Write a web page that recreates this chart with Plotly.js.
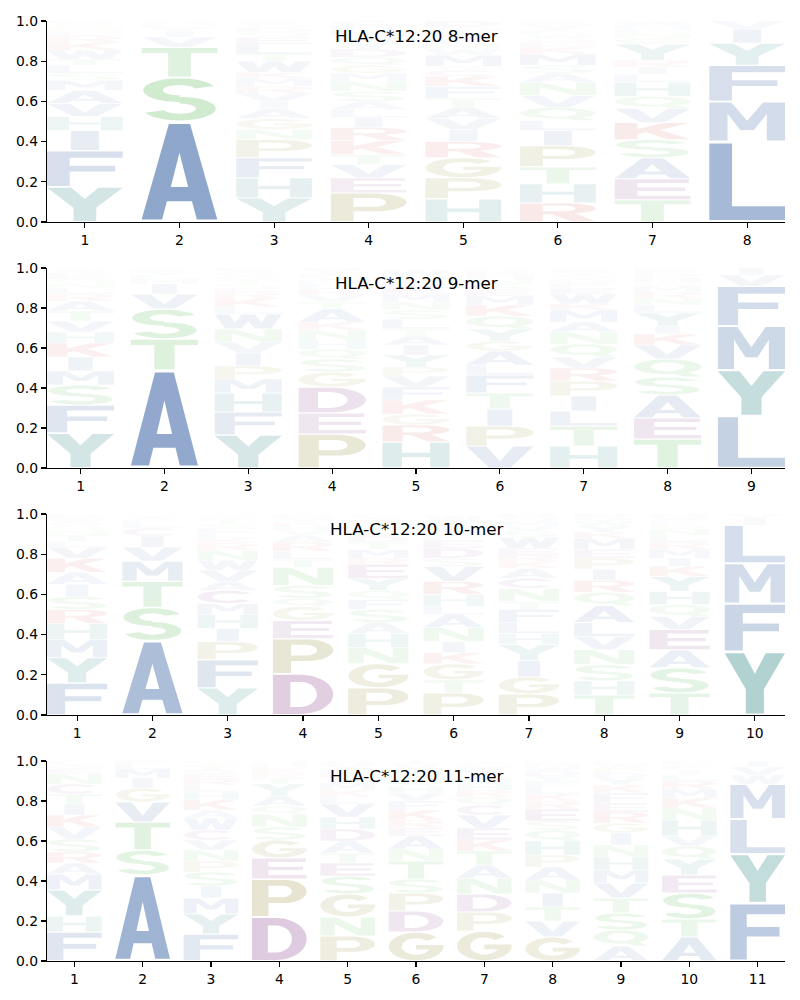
<!DOCTYPE html>
<html><head><meta charset="utf-8">
<script src="https://cdn.plot.ly/plotly-3.0.1.min.js"></script>
<style>html,body{margin:0;padding:0;background:#fff}#chart{width:800px;height:1000px}</style>
</head><body><div id="chart"></div>
<script>
// ---------------- DATA ----------------
const panelTitles = ["HLA-C*12:20 8-mer", "HLA-C*12:20 9-mer", "HLA-C*12:20 10-mer", "HLA-C*12:20 11-mer"];
const yTickVals = [0, 0.2, 0.4, 0.6, 0.8, 1.0];
const yTickLabels = ["0.0", "0.2", "0.4", "0.6", "0.8", "1.0"];

// letters of each position, bottom to top
const letters8 = ["YFIHVAMSLTWKRENGQD","ASTVIYLMF","YHFPNGAIVRMKWTLEQDSC","PEVTKRILASNMGQDYWHFC",
  "HPGRIVATFKCSMWNLYEQD","RHTPILQVNASMKEGWFYDC","TEASKVQHLIRYGNFMW","LMFYIV"];
const heights8 = [
  [.175,.18,.10,.07,.065,.065,.05,.035,.04,.03,.045,.04,.03,.02,.015,.015,.015,.01],
  [.50,.22,.15,.05,.03,.015,.015,.01,.01],
  [.12,.10,.10,.09,.05,.055,.05,.035,.04,.035,.04,.03,.055,.035,.05,.035,.025,.02,.02,.015],
  [.145,.075,.065,.05,.07,.065,.05,.04,.04,.05,.05,.04,.04,.04,.04,.035,.03,.03,.025,.02],
  [.115,.105,.10,.08,.06,.055,.055,.045,.06,.05,.03,.02,.055,.03,.025,.025,.02,.02,.02,.03],
  [.095,.095,.085,.105,.075,.05,.065,.06,.065,.045,.04,.055,.035,.025,.02,.02,.02,.02,.015,.01],
  [.11,.105,.105,.09,.085,.07,.06,.07,.04,.035,.035,.08,.03,.025,.02,.02,.02],
  [.40,.20,.18,.11,.07,.04]
];
const letters9 = ["YFSMIKHVTARLNQEDGWC","ATSVIMLYFC","YFHMPIVNWLKRESTGQAD","PEDGSQHNKATVRLMYFIW",
  "HRGKFVPYIATLSNMEDQWC","VPITFLAGYQKMESNHDRW","HTLIPRVQNAMKWEFGSYDC","TEASQVKIYLNRMGHPFD","LYMFVI"];
const heights9 = [
  [.175,.14,.10,.07,.07,.07,.055,.055,.05,.05,.035,.03,.025,.02,.02,.01,.01,.01,.005],
  [.49,.155,.15,.075,.05,.025,.02,.015,.01,.01],
  [.165,.115,.095,.07,.065,.065,.055,.065,.075,.035,.045,.03,.02,.02,.02,.02,.015,.015,.01],
  [.17,.105,.13,.075,.065,.05,.045,.05,.04,.065,.035,.035,.03,.025,.02,.015,.015,.015,.015],
  [.13,.085,.055,.07,.065,.055,.045,.06,.05,.045,.035,.05,.045,.04,.04,.035,.025,.03,.03,.01],
  [.11,.10,.085,.08,.09,.05,.07,.05,.06,.065,.055,.045,.03,.03,.025,.02,.015,.01,.01],
  [.11,.10,.075,.075,.075,.065,.055,.065,.06,.05,.06,.03,.05,.03,.025,.02,.02,.015,.01,.01],
  [.145,.105,.115,.09,.09,.07,.055,.04,.065,.04,.035,.03,.03,.02,.02,.02,.015,.015],
  [.26,.23,.22,.20,.055,.035]
];
const letters10 = ["FYMHRSIAKVLTNQGWED","ASTMVICLFYQ","YFPIHMCAVWNRKLESTGQ","DPEGQSNTLRAVHKYMF",
  "PGNHASFQYERMTDLWIKVC","PTGKINALHRVSDEFMQYWC","PGIYHLFTNCAKREWSVMQD","THSNVLAQRIPEMKYWGD",
  "TSAEVQHYKIMRLNGFWD","YFMLIV"];
const heights10 = [
  [.16,.125,.09,.08,.07,.065,.06,.06,.07,.055,.03,.03,.025,.02,.02,.015,.015,.01],
  [.37,.165,.13,.10,.07,.055,.04,.025,.02,.015,.01],
  [.135,.14,.09,.065,.07,.055,.065,.045,.055,.05,.05,.035,.025,.025,.025,.02,.02,.015,.015],
  [.205,.175,.09,.07,.04,.065,.09,.04,.04,.045,.035,.025,.02,.02,.015,.015,.01],
  [.135,.12,.08,.07,.055,.065,.05,.045,.06,.07,.03,.045,.035,.03,.025,.02,.02,.02,.015,.01],
  [.11,.065,.08,.055,.055,.07,.065,.04,.06,.065,.075,.04,.05,.04,.025,.025,.025,.02,.025,.01],
  [.105,.085,.08,.08,.055,.055,.065,.04,.065,.05,.05,.035,.03,.035,.055,.03,.025,.025,.02,.015],
  [.10,.07,.08,.075,.065,.07,.085,.065,.06,.055,.055,.045,.055,.03,.03,.025,.02,.015],
  [.11,.125,.09,.10,.065,.06,.065,.075,.05,.04,.045,.035,.035,.03,.025,.02,.015,.015],
  [.315,.24,.20,.19,.035,.02]
];
const letters11 = ["FHYMARSVKITCNEGL","ASTVGIMLF","FYMISPNVCWAKHLREQTGD","DPEGSNQAYTRKLHM",
  "PNGSETADHVLKMIRFYQ","GDPSTNAERKFVHQLMYWI","GPDNATKEVCQRHMIYFLS","GVTINAPHQSERKLFYDWMC",
  "AQSTVMHNIGREFKYDPWL","ATSEYQVHNKMRLIFGD","FYLMWVI"];
const heights11 = [
  [.145,.08,.13,.08,.055,.055,.065,.06,.06,.055,.05,.05,.05,.025,.02,.02],
  [.43,.125,.14,.10,.07,.05,.045,.025,.015],
  [.135,.10,.08,.06,.07,.055,.055,.05,.05,.06,.04,.05,.04,.035,.03,.025,.02,.02,.015,.01],
  [.22,.19,.105,.09,.065,.065,.04,.05,.06,.03,.025,.02,.015,.015,.01],
  [.125,.095,.115,.09,.065,.05,.06,.06,.06,.065,.035,.035,.035,.025,.025,.02,.02,.02],
  [.145,.105,.09,.07,.09,.06,.065,.04,.04,.05,.045,.04,.035,.03,.025,.025,.02,.015,.01],
  [.15,.095,.09,.08,.065,.07,.055,.06,.065,.05,.04,.035,.03,.025,.02,.02,.02,.015,.015],
  [.12,.08,.07,.07,.065,.065,.06,.07,.055,.045,.06,.04,.035,.035,.03,.025,.025,.02,.02,.01],
  [.075,.08,.085,.075,.075,.065,.065,.06,.06,.05,.055,.045,.05,.04,.035,.025,.025,.02,.015],
  [.12,.09,.13,.09,.08,.065,.05,.08,.06,.05,.045,.04,.03,.025,.02,.015,.01],
  [.29,.245,.175,.175,.045,.04,.03]
];

// ---------------- STYLE ----------------
const groupRGB = {
  blue:[32,80,152], teal:[10,110,110], green:[40,165,40], khaki:[125,115,10], purple:[110,20,110], red:[200,25,25]
};
const letterGroup = {A:'blue',V:'blue',L:'blue',I:'blue',M:'blue',F:'blue',W:'blue',
  Y:'teal',H:'teal', S:'green',T:'green',N:'green',Q:'green', P:'khaki',G:'khaki',
  D:'purple',E:'purple',C:'purple', K:'red',R:'red'};

// ---------------- GLYPH OUTLINES (unit box) ----------------
function arc(cx,cy,rx,ry,a0,a1,n){n=n||24;const p=[];for(let i=0;i<=n;i++){const a=(a0+(a1-a0)*i/n)*Math.PI/180;p.push([cx+rx*Math.cos(a),cy+ry*Math.sin(a)]);}return p;}
const G = {
  A:[{p:[[0,0],[0.27,0],[0.335,0.19],[0.665,0.19],[0.73,0],[1,0],[0.64,1],[0.36,1]]},{p:[[0.385,0.34],[0.615,0.34],[0.5,0.7]],hole:true}],
  C:[{p:arc(0.5,0.5,0.5,0.5,40,320,32).concat(arc(0.5,0.5,0.26,0.3,320,40,32))}],
  D:[{p:[[0,0]].concat(arc(0.45,0.5,0.55,0.5,-90,90,24),[[0,1]])},{p:[[0.29,0.18]].concat(arc(0.45,0.5,0.28,0.32,-90,90,24),[[0.29,0.82]]),hole:true}],
  E:[{p:[[0,0],[1,0],[1,0.18],[0.3,0.18],[0.3,0.42],[0.93,0.42],[0.93,0.59],[0.3,0.59],[0.3,0.82],[0.98,0.82],[0.98,1],[0,1]]}],
  F:[{p:[[0,0],[0.3,0],[0.3,0.42],[0.9,0.42],[0.9,0.59],[0.3,0.59],[0.3,0.82],[1,0.82],[1,1],[0,1]]}],
  G:[{p:arc(0.5,0.5,0.5,0.5,42,360,32).concat([[1,0.55],[0.5,0.55],[0.5,0.39],[0.75,0.39]],arc(0.5,0.5,0.26,0.3,-40,-318,32))}],
  H:[{p:[[0,0],[0.29,0],[0.29,0.42],[0.71,0.42],[0.71,0],[1,0],[1,1],[0.71,1],[0.71,0.59],[0.29,0.59],[0.29,1],[0,1]]}],
  I:[{p:[[0.315,0],[0.685,0],[0.685,1],[0.315,1]]}],
  K:[{p:[[0,0],[0.3,0],[0.3,0.3],[0.41,0.42],[0.69,0],[1,0],[0.6,0.57],[0.98,1],[0.64,1],[0.3,0.62],[0.3,1],[0,1]]}],
  L:[{p:[[0,0],[1,0],[1,0.18],[0.3,0.18],[0.3,1],[0,1]]}],
  M:[{p:[[0,0],[0.24,0],[0.24,0.7],[0.41,0.28],[0.59,0.28],[0.76,0.7],[0.76,0],[1,0],[1,1],[0.71,1],[0.5,0.52],[0.29,1],[0,1]]}],
  N:[{p:[[0,0],[0.26,0],[0.26,0.64],[0.7,0],[1,0],[1,1],[0.74,1],[0.74,0.36],[0.3,1],[0,1]]}],
  P:[{p:[[0,0],[0.3,0],[0.3,0.36]].concat(arc(0.58,0.68,0.42,0.32,-90,90,24),[[0,1]])},{p:[[0.3,0.52]].concat(arc(0.55,0.68,0.18,0.16,-90,90,20),[[0.3,0.84]]),hole:true}],
  Q:[{p:arc(0.5,0.57,0.5,0.43,0,360,40)},{p:arc(0.5,0.57,0.25,0.26,0,360,40),hole:true},{p:[[0.52,0.26],[0.74,0],[1,0],[0.78,0.28],[0.66,0.38]]}],
  R:[{p:[[0,0],[0.3,0],[0.3,0.4],[0.42,0.4],[0.68,0],[1,0],[0.72,0.45]].concat(arc(0.58,0.72,0.42,0.28,-60,90,24),[[0,1]])},{p:[[0.3,0.56]].concat(arc(0.55,0.72,0.18,0.16,-90,90,20),[[0.3,0.88]]),hole:true}],
  S:[{p:arc(0.5,0.72,0.48,0.28,20,270,28).concat(arc(0.5,0.72,0.22,0.12,270,20,28))},{p:arc(0.5,0.28,0.48,0.28,90,-160,28).concat(arc(0.5,0.28,0.22,0.12,-160,90,28))}],
  T:[{p:[[0.35,0],[0.65,0],[0.65,0.82],[1,0.82],[1,1],[0,1],[0,0.82],[0.35,0.82]]}],
  V:[{p:[[0.34,0],[0.66,0],[1,1],[0.7,1],[0.5,0.3],[0.3,1],[0,1]]}],
  W:[{p:[[0.16,0],[0.4,0],[0.5,0.52],[0.6,0],[0.84,0],[1,1],[0.78,1],[0.7,0.42],[0.6,1],[0.4,1],[0.3,0.42],[0.22,1],[0,1]]}],
  Y:[{p:[[0.35,0],[0.65,0],[0.65,0.4],[1,1],[0.68,1],[0.5,0.66],[0.32,1],[0,1],[0.35,0.4]]}]
};
function area(pts){let a=0;for(let i=0;i<pts.length;i++){const p=pts[i],q=pts[(i+1)%pts.length];a+=p[0]*q[1]-q[0]*p[1];}return a/2;}
function glyphPath(ch,xc,y0,h){
  const pad=h*0.025, yb=y0+pad, hh=h-2*pad, w=0.8;
  let s='';
  for(const c of G[ch]){
    let pts=c.p.slice(); const a=area(pts);
    if((a>0)===!!c.hole) pts.reverse();
    s+='M'+pts.map(p=>(xc-w/2+p[0]*w).toFixed(4)+','+(yb+p[1]*hh).toFixed(4)).join('L')+'Z';
  }
  return s;
}

// ---------------- BUILD ----------------
const panels = [[letters8,heights8],[letters9,heights9],[letters10,heights10],[letters11,heights11]];
const yDomains = [[0.778,0.979],[0.532,0.732],[0.285,0.486],[0.039,0.239]];
const xDomain = [0.05875,0.98125];
const tickFont = {family:'DejaVu Sans', size:13.9, color:'#000'};
const data=[], shapes=[], annotations=[];
const layout = {width:800,height:1000,margin:{l:0,r:0,t:0,b:0},paper_bgcolor:'#fff',plot_bgcolor:'rgba(0,0,0,0)',showlegend:false};

panels.forEach(([lets,hts],k)=>{
  const sfx = k===0?'':String(k+1);
  const xr='x'+sfx, yr='y'+sfx;
  const positions = lets.map((_,i)=>i+1);
  data.push({type:'scatter',mode:'markers',x:positions,y:positions.map(()=>null),xaxis:xr,yaxis:yr,hoverinfo:'skip',marker:{opacity:0}});
  layout['xaxis'+sfx] = {domain:xDomain,anchor:yr,range:[0.6,positions.length+0.4],tickvals:positions,ticktext:positions.map(String),
    ticks:'outside',ticklen:5,tickwidth:1.1,tickcolor:'#000',showline:true,linecolor:'#000',linewidth:1.1,showgrid:false,zeroline:false,
    tickfont:tickFont,fixedrange:true,automargin:false};
  layout['yaxis'+sfx] = {domain:yDomains[k],anchor:xr,range:[0,1],tickvals:yTickVals,ticktext:yTickLabels,
    ticks:'outside',ticklen:5,tickwidth:1.1,tickcolor:'#000',showline:true,linecolor:'#000',linewidth:1.1,showgrid:false,zeroline:false,
    tickfont:tickFont,fixedrange:true,automargin:false};
  lets.forEach((col,i)=>{
    let y0=0;
    col.split('').forEach((ch,j)=>{
      const h=hts[i][j];
      const rgb=groupRGB[letterGroup[ch]];
      const alpha=Math.min(1,h);
      shapes.push({type:'path',xref:xr,yref:yr,path:glyphPath(ch,positions[i],y0,h),
        fillcolor:`rgba(${rgb[0]},${rgb[1]},${rgb[2]},${alpha.toFixed(3)})`,line:{width:0},layer:'below',fillrule:'nonzero'});
      y0+=h;
    });
  });
  annotations.push({text:panelTitles[k],xref:xr+' domain',yref:yr+' domain',x:0.5,y:0.925,xanchor:'center',yanchor:'middle',
    showarrow:false,font:{family:'DejaVu Sans',size:16.7,color:'#000'}});
});
layout.shapes=shapes; layout.annotations=annotations;
Plotly.newPlot('chart',data,layout,{staticPlot:true,displayModeBar:false});
</script></body></html>
